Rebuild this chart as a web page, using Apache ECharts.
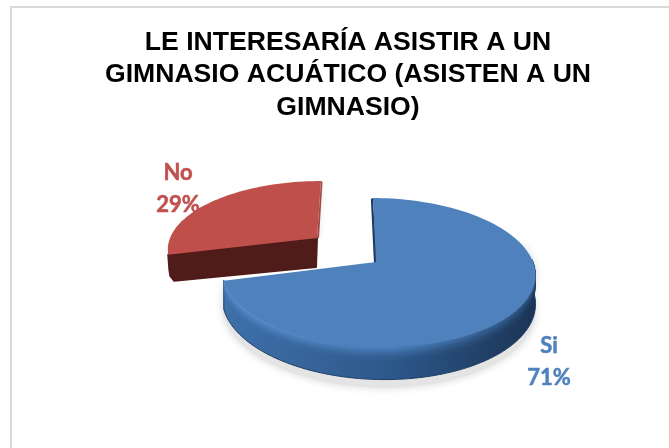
<!DOCTYPE html>
<html>
<head>
<meta charset="utf-8">
<style>html,body{margin:0;padding:0;background:#fff}#c{width:669px;height:448px}</style>
<script src="https://cdn.jsdelivr.net/npm/echarts@6/dist/echarts.min.js"></script>
</head>
<body>
<div id="c"></div>
<script>
const titleText = 'LE INTERESARÍA ASISTIR A UN\nGIMNASIO ACUÁTICO (ASISTEN A UN\nGIMNASIO)';
const categories = ['Si', 'No'];
const values = [71, 29];
const labelColors = ['#4F81BD', '#C0504D'];

// Perspective layout for each slice (the "No" slice is exploded)
const layouts = [
  { ax: 376, ay: 262, ox: 2, R: 155, S: 73, k: 0.141, shear: 0.08, depth: 28, base: 10,
    labelX: 549, labelY: 362, face: '#4f81bd', edge: '#1f3a5f', dark: '#17304f' },
  { ax: 317, ay: 238, ox: 0, R: 147, S: 65, k: 0.141, shear: -0.07, depth: 28, base: 1,
    labelX: 178, labelY: 189, face: '#be4f4b', edge: '#a04a46', dark: '#4f1c19' }
];

const wallStops = {
  low:  [[63, 112, 170], [44, 87, 137], [27, 52, 84]],
  high: [[94, 146, 208], [79, 132, 194], [45, 85, 132]]
};

const total = values.reduce((a, b) => a + b, 0);

function rim(L, deg, drop) {
  const t = deg * Math.PI / 180;
  const u = Math.sin(t), v = Math.cos(t), w = 1 + L.k * v;
  const dy = -L.S * v / w;
  return [L.ax + L.ox + L.R * u / w + L.shear * dy, L.ay + dy + (drop ? drop / w : 0)];
}
function arc(L, from, to, drop) {
  const pts = [], n = Math.max(2, Math.ceil(Math.abs(to - from) / 2));
  for (let i = 0; i <= n; i++) pts.push(rim(L, from + (to - from) * i / n, drop));
  return pts;
}
function mixGrad(t) {
  const c = wallStops.low.map((lo, i) => {
    const hi = wallStops.high[i];
    return 'rgb(' + lo.map((x, j) => Math.round(x + (hi[j] - x) * t)).join(',') + ')';
  });
  return new echarts.graphic.LinearGradient(0, 0, 1, 0, [
    { offset: 0, color: c[0] }, { offset: 0.55, color: c[1] }, { offset: 1, color: c[2] }
  ]);
}

function renderSlice(params, api) {
  const i = params.dataIndex, L = layouts[i];
  let before = 0;
  for (let j = 0; j < i; j++) before += values[j];
  const a0 = before / total * 360, a1 = (before + api.value(1)) / total * 360;
  const apex = [L.ax, L.ay];
  const children = [];
  const poly = (points, style, z2) => children.push({ type: 'polygon', shape: { points }, style, z2, silent: true });

  if (i === 0) {
    // soft cast shadow, outer wall, then stacked strips for the rounded shoulder
    poly(arc(L, 75, 258, L.depth + 7).concat(arc(L, 258, 75, 0)),
      { fill: '#e4e4e4', shadowBlur: 8, shadowColor: '#d8d8d8' }, L.base - 9);
    const front = arc(L, 88, 256, 0).concat(arc(L, 256, 88, L.depth));
    poly(front, { fill: mixGrad(0), stroke: '#1f3f66', lineWidth: 1 }, L.base);
    for (let d = 12; d >= 1; d--) {
      poly(arc(L, 88, 255.6, 0).concat(arc(L, 255.6, 88, d)),
        { fill: mixGrad(Math.pow(1 - d / 13, 1.6)) }, L.base + 1 + (12 - d) * 0.01);
    }
    // thin wall visible along the start edge
    const s = rim(L, a0);
    poly([s, [apex[0] + 1, apex[1]], [apex[0] - 2, apex[1] + 2], [s[0] - 2, s[1] + 1]],
      { fill: L.edge }, L.base + 1);
  } else {
    // radial cut wall with a rounded lower corner
    const p0 = rim(L, a0), p1 = rim(L, a1);
    const apexDrop = [apex[0] - 1, apex[1] + L.depth + 1];
    poly([apex, p0, [p0[0] + 1, p0[1] + 14], [p0[0] + 2, p0[1] + 21], [p0[0] + 6, p0[1] + L.depth - 2], apexDrop],
      { fill: L.dark, stroke: L.dark, lineWidth: 2, lineJoin: 'round' }, L.base);
    poly([p1, apex, [apex[0] + 2, apex[1]], [p1[0] + 1.5, p1[1] + 1]],
      { fill: L.edge, shadowBlur: 5, shadowColor: 'rgba(150,150,150,0.35)' }, L.base + 1);
  }

  // top face
  poly([apex].concat(arc(L, a0, a1, 0)), { fill: L.face }, L.base + 2);

  // label
  children.push({
    type: 'text', z2: 30, silent: true,
    style: {
      x: L.labelX, y: L.labelY,
      text: api.value(2) + '\n' + api.value(1) + '%',
      fill: labelColors[i], stroke: labelColors[i], lineWidth: 0.5,
      font: 'bold 22px Lato, "Open Sans", sans-serif',
      lineHeight: 32, align: 'center', verticalAlign: 'middle'
    }
  });
  return { type: 'group', children };
}

const chart = echarts.init(document.getElementById('c'), null, { renderer: 'canvas' });
chart.setOption({
  animation: false,
  backgroundColor: '#ffffff',
  title: {
    text: titleText, left: 343, top: 21, textAlign: 'center',
    textStyle: { fontFamily: '"Liberation Sans", Arial, sans-serif', fontWeight: 'bold', fontSize: 26.6, lineHeight: 32.5, color: '#000000' }
  },
  graphic: [{
    type: 'rect', z: -1, silent: true,
    shape: { x: 11, y: 7, width: 720, height: 520 },
    style: { fill: 'none', stroke: '#d9d9d9', lineWidth: 2 }
  }],
  series: [{
    type: 'custom',
    coordinateSystem: 'none',
    renderItem: renderSlice,
    data: categories.map((c, i) => [i, values[i], c])
  }]
});
</script>
</body>
</html>
